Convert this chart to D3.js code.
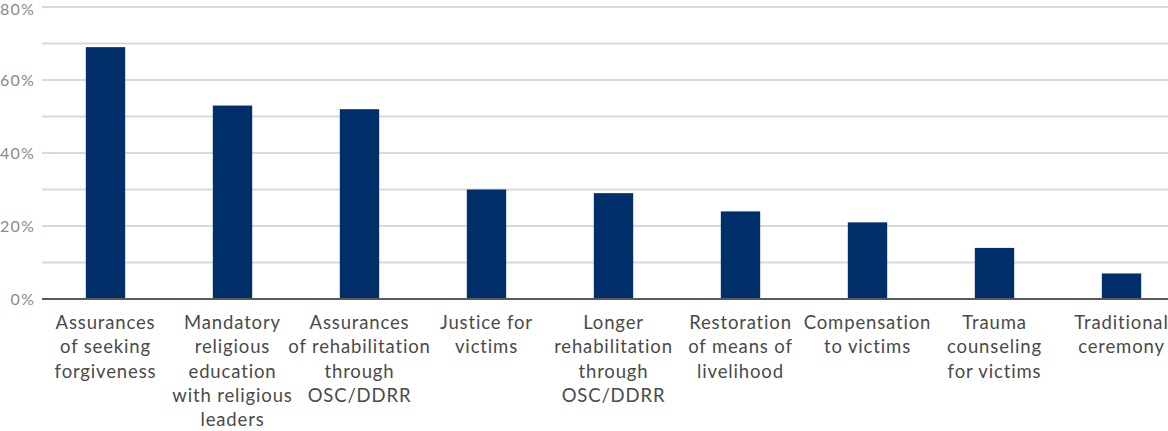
<!DOCTYPE html>
<html><head><meta charset="utf-8">
<script src="https://cdn.jsdelivr.net/npm/d3@7"></script>
<style>body{margin:0;background:#fff}svg{display:block}</style>
</head><body>
<svg id="c" width="1168" height="431"></svg>
<script>
const categories = [
  ["Assurances","of seeking","forgiveness"],
  ["Mandatory","religious","education","with religious","leaders"],
  ["Assurances","of rehabilitation","through","OSC/DDRR"],
  ["Justice for","victims"],
  ["Longer","rehabilitation","through","OSC/DDRR"],
  ["Restoration","of means of","livelihood"],
  ["Compensation","to victims"],
  ["Trauma","counseling","for victims"],
  ["Traditional","ceremony"]
];
const values = [69, 53, 52, 30, 29, 24, 21, 14, 7];
const yTicks = [0, 20, 40, 60, 80];
const gridTicks = [10, 20, 30, 40, 50, 60, 70, 80];

const svg = d3.select("#c");
const font = "Lato, 'Open Sans', sans-serif";
const x = d3.scaleBand().domain(d3.range(values.length)).range([42, 1185]).paddingInner(0.69).paddingOuter(0.345);
const y = d3.scaleLinear().domain([0, 80]).range([299, 7]);

svg.append("g").selectAll("line").data(gridTicks).join("line")
  .attr("x1", 42).attr("x2", 1168).attr("y1", d => y(d)).attr("y2", d => y(d))
  .attr("stroke", "#d9d9d9").attr("stroke-width", 2);

svg.append("g").selectAll("rect").data(values).join("rect")
  .attr("x", (d, i) => x(i)).attr("width", x.bandwidth())
  .attr("y", d => y(d)).attr("height", d => y(0) - y(d))
  .attr("fill", "#002f6a");

svg.append("line").attr("x1", 42).attr("x2", 1168).attr("y1", y(0)).attr("y2", y(0))
  .attr("stroke", "#5a5a5a").attr("stroke-width", 2);

const yAxis = d3.axisLeft(y).tickValues(yTicks).tickFormat(d => d + "%").tickSize(0).tickPadding(7);
const ga = svg.append("g").attr("transform", "translate(42,0)").call(yAxis);
ga.select(".domain").remove();
ga.selectAll("text").attr("font-family", font).attr("font-size", 16).attr("letter-spacing", 1.2).attr("fill", "#8a8a8a")
  .attr("dy", d => d === 80 ? "0.45em" : "0.32em");

const lab = svg.append("g").selectAll("text").data(categories).join("text")
  .attr("x", (d, i) => x(i) + x.bandwidth() / 2)
  .attr("y", 329).attr("text-anchor", "middle")
  .attr("font-family", font).attr("font-size", 18.5).attr("letter-spacing", 0.85).attr("fill", "#4a4a4a");
lab.selectAll("tspan").data(d => d).join("tspan")
  .attr("x", function() { return this.parentNode.getAttribute("x"); })
  .attr("dy", (d, i) => i === 0 ? 0 : 24.3)
  .text(d => d);
</script>
</body></html>
